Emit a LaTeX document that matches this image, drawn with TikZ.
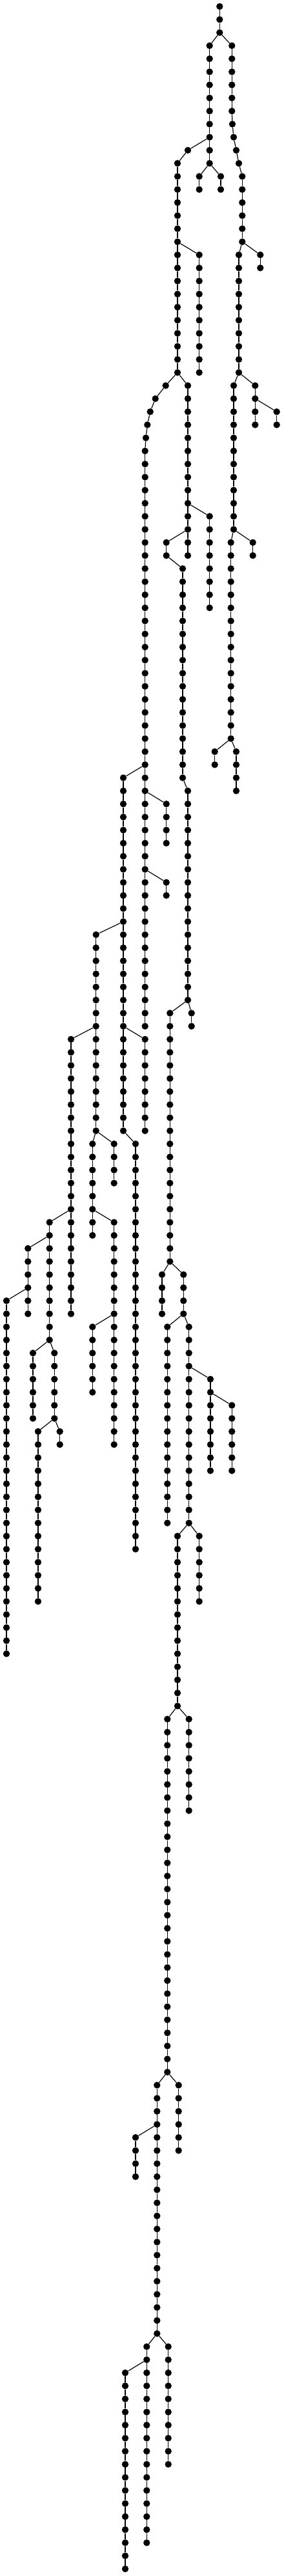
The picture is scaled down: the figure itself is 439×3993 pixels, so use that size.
\documentclass[tikz,border=0pt]{standalone}
\tikzset{dot/.style={circle,fill=black,inner sep=0pt,minimum size=10.4pt},
 edge/.style={line width=1.2pt,black}}
\def\lev{20.265}
\newcommand\mkchain[5]{%
  \foreach \k in {#3,...,#4}{\node[dot] (#1-\k) at (#2,{10+\lev*\k}) {};}%
  \foreach \k [remember=\k as \p (initially #3)] in {#3,...,#4}{\ifnum\k>#3\relax \draw[edge] (#1-\p) -- (#1-\k);\fi}%
  \draw[edge] (#5) -- (#1-#3);%
}
\newcommand\mknode[4]{\node[dot] (#1) at (#2,{10+\lev*#3}) {}; \draw[edge] (#4) -- (#1);}
\begin{document}
\begin{tikzpicture}[x=1pt,y=-1pt]
\useasboundingbox (0,0) rectangle (439,3993);
\foreach \k in {0,1,2} {\node[dot] (R-\k) at (340.3,{10+\lev*\k}) {};}
\draw[edge] (R-0) -- (R-1) -- (R-2);
\mkchain{A}{324.7}{3}{12}{R-2}
\mkchain{D}{308.7}{13}{14}{A-12}
\mkchain{E}{342}{13}{14}{A-12}
\mknode{C-11}{291}{11}{A-10}
\mkchain{C}{275}{12}{28}{C-11}
\mkchain{F}{308.7}{19}{28}{C-18}
\mknode{G-29}{256.7}{29}{C-28}
\mknode{G-30}{240.7}{30}{G-29}
\mknode{G-31}{232.7}{31}{G-30}
\mknode{G-32}{228.3}{32}{G-31}
\mknode{G-33}{226}{33}{G-32}
\mkchain{G}{224.7}{34}{78}{G-33}
\mkchain{W}{257.7}{61}{64}{G-60}
\mkchain{X}{257.7}{67}{68}{G-66}
\mkchain{V}{191}{59}{86}{G-58}
\mkchain{AA}{148.7}{71}{86}{V-70}
\mkchain{AB}{224.7}{79}{86}{V-78}
\mkchain{AC}{210}{87}{118}{V-86}
\mkchain{AD}{110}{79}{100}{AA-78}
\mkchain{AE}{143.3}{87}{94}{AA-86}
\mkchain{AF}{176.7}{87}{90}{AA-86}
\mkchain{AG}{176.7}{93}{110}{AE-92}
\mkchain{AH}{143.3}{101}{106}{AG-100}
\mkchain{AJ}{76.7}{93}{102}{AD-92}
\mkchain{AK}{43.3}{95}{100}{AJ-94}
\mkchain{AL}{10}{99}{126}{AK-98}
\mkchain{AM}{51}{103}{108}{AJ-102}
\mkchain{AN}{84.3}{103}{108}{AJ-102}
\mkchain{AO}{59}{109}{122}{AN-108}
\mkchain{AP}{92.7}{109}{110}{AN-108}
\mkchain{H}{291}{29}{42}{C-28}
\mkchain{P}{324.7}{39}{46}{H-38}
\mkchain{Q}{257.7}{41}{42}{H-40}
\mkchain{S}{283}{43}{59}{Q-42}
\mkchain{S}{291}{60}{76}{S-59}
\mkchain{T}{263.3}{77}{96}{S-76}
\mkchain{U}{296.7}{77}{78}{S-76}
\mkchain{AQ}{251}{97}{100}{T-96}
\mkchain{AR}{284.3}{97}{100}{T-96}
\mkchain{AS}{259.3}{101}{116}{AR-100}
\mkchain{AT}{292.7}{101}{116}{AR-100}
\mkchain{AU}{326}{105}{112}{AT-104}
\mkchain{AV}{359.3}{107}{112}{AU-106}
\mkchain{AW}{275}{117}{130}{AT-116}
\mkchain{AX}{308.7}{117}{122}{AT-116}
\mkchain{AY}{259.3}{131}{158}{AW-130}
\mkchain{AZ}{292.7}{131}{138}{AW-130}
\mkchain{BA}{243.3}{159}{178}{AY-158}
\mkchain{BB}{276.7}{159}{164}{AY-158}
\mkchain{BC}{210}{163}{166}{BA-162}
\mkchain{BD}{227.3}{179}{194}{BA-178}
\mkchain{BE}{260.7}{179}{188}{BA-178}
\mkchain{BF}{194}{181}{196}{BD-180}
\mkchain{B}{359.3}{3}{8}{R-2}
\mknode{B-9}{360}{9}{B-8}
\mknode{B-10}{362}{10}{B-9}
\mknode{B-11}{366}{11}{B-10}
\mknode{B-12}{370}{12}{B-11}
\mkchain{B}{375.3}{13}{18}{B-12}
\mkchain{J}{403.3}{19}{20}{B-18}
\mkchain{I}{370}{19}{28}{B-18}
\mkchain{K}{362}{29}{40}{I-28}
\mkchain{L}{395.3}{29}{32}{I-28}
\mkchain{M}{428.7}{31}{32}{L-30}
\mkchain{N}{357.7}{41}{56}{K-40}
\mkchain{O}{391.7}{41}{42}{K-40}
\mkchain{Y}{332.7}{57}{58}{N-56}
\mkchain{Z}{366}{57}{60}{N-56}
\end{tikzpicture}
\end{document}
